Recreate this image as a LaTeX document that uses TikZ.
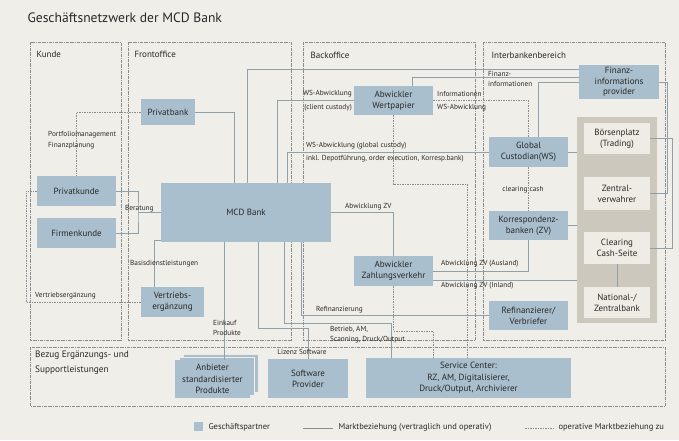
\documentclass[tikz,border=0pt]{standalone}
\usepackage{fontspec}
\setmainfont{PT Sans}
\usetikzlibrary{positioning,calc}
\definecolor{bgbeige}{HTML}{F0EEE8}
\definecolor{partnerblue}{HTML}{A9BFCD}
\definecolor{colgray}{HTML}{CCC8BD}
\definecolor{innerbeige}{HTML}{EFECE5}
\definecolor{linegray}{HTML}{8FA0AB}
\definecolor{dashgray}{HTML}{8C8C8C}
\definecolor{txtgray}{HTML}{282828}

\begin{document}
\begin{tikzpicture}[x=1pt,y=-1pt,
    every node/.style={text=txtgray, font=\fontsize{9}{11}\selectfont},
    partner/.style={fill=partnerblue, inner sep=0pt, align=center},
    inbox/.style={fill=innerbeige, inner sep=0pt, align=center, minimum width=66pt},
    region/.style={draw=dashgray, line width=0.4pt, dash pattern=on 3pt off 1pt on 0.6pt off 1pt},
    conn/.style={draw=linegray, line width=0.5pt},
    opconn/.style={draw=dashgray, line width=0.45pt, dash pattern=on 1.5pt off 1pt},
    lbl/.style={font=\fontsize{7.3}{8.5}\selectfont, inner sep=0pt}]

  \useasboundingbox (0,0) rectangle (679,440);
  \fill[bgbeige] (0,0) rectangle (679,440);

  \node[anchor=base west, font=\fontsize{13.6}{16}\selectfont] (title) at (24,22) {Geschäftsnetzwerk der MCD Bank};

  % Bereiche
  \draw[region] (30,42) rectangle (121,340);
  \draw[region] (128,42) rectangle (291,340);
  \draw[region] (303,42) rectangle (475,340);
  \draw[region] (483,42) rectangle (665,340);
  \draw[region] (30,347) rectangle (665,406);
  \node[anchor=west] (kunde) at (33,54) {Kunde};
  \node[anchor=west] (front) at (131,54) {Frontoffice};
  \node[anchor=west] (back) at (307,55) {Backoffice};
  \node[anchor=west] (interbank) at (488,55) {Interbankenbereich};
  \node[anchor=north west, align=left, font=\fontsize{9.3}{15}\selectfont, inner sep=0pt] (bezug) at (35,351) {Bezug Ergänzungs- und\\Supportleistungen};

  % Geschaeftspartner
  \node[partner, minimum width=54pt, minimum height=26pt] (privatbank) at (168,112) {Privatbank};
  \node[partner, minimum width=79pt, minimum height=30pt] (privatkunde) at (76.5,191) {Privatkunde};
  \node[partner, minimum width=79pt, minimum height=30pt] (firmenkunde) at (76.5,233) {Firmenkunde};
  \node[partner, minimum width=170pt, minimum height=59pt] (mcd) at (246,212.5) {MCD Bank};
  \node[partner, minimum width=63pt, minimum height=30pt] (vertrieb) at (172.5,302) {Vertriebs-\\ergänzung};
  \node[partner, minimum width=79pt, minimum height=29pt] (abwwp) at (393.5,100.5) {Abwickler\\Wertpapier};
  \node[partner, minimum width=79pt, minimum height=30pt] (abwzv) at (393.5,271) {Abwickler\\Zahlungsverkehr};
  \node[partner, minimum width=80pt, minimum height=34pt, font=\fontsize{9}{10.5}\selectfont] (finanz) at (619,82) {Finanz-\\informations\\provider};
  \node[partner, minimum width=79pt, minimum height=30pt] (gc) at (528.5,152) {Global\\Custodian(WS)};
  \node[partner, minimum width=79pt, minimum height=29pt] (korr) at (528.5,225.5) {Korrespondenz-\\banken (ZV)};
  \node[partner, minimum width=79pt, minimum height=29pt] (refi) at (528.5,315.5) {Refinanzierer/\\Verbriefer};

  \node[fill=colgray, minimum width=80pt, minimum height=206pt, inner sep=0pt] (column) at (617,220) {};
  \node[inbox, minimum height=31pt] (boerse) at (617,138.5) {Börsenplatz\\(Trading)};
  \node[inbox, minimum height=33pt] (zentral) at (617,193.5) {Zentral-\\verwahrer};
  \node[inbox, minimum height=32pt] (clearing) at (617,248) {Clearing\\Cash-Seite};
  \node[inbox, minimum height=31pt] (national) at (617,302.5) {National-/\\Zentralbank};

  \node[partner, draw=innerbeige, line width=0.6pt, minimum width=75pt, minimum height=38pt] (anbieter3) at (220.5,373) {};
  \node[partner, draw=innerbeige, line width=0.6pt, minimum width=75pt, minimum height=38pt] (anbieter2) at (216.5,376) {};
  \node[partner, minimum width=75pt, minimum height=38pt, font=\fontsize{9}{11.5}\selectfont] (anbieter) at (212.5,379) {Anbieter\\standardisierter\\Produkte};
  \node[partner, minimum width=80pt, minimum height=39pt] (software) at (308,378.5) {Software\\Provider};
  \node[partner, minimum width=205pt, minimum height=40pt, font=\fontsize{9}{11.5}\selectfont] (service) at (468.5,378) {Service Center:\\RZ, AM, Digitalisierer,\\Druck/Output, Archivierer};

  % Kunde und Frontoffice
  \draw[opconn] (privatbank.west) -| (privatkunde.north);
  \node[lbl, anchor=west] (lblportfolio) at (48,135) {Portfoliomanagement};
  \node[lbl, anchor=west] (lblfinanzpl) at (48,146) {Finanzplanung};

  \coordinate (pbdown) at (234,0);
  \draw[conn] (privatbank.east) -| (pbdown |- mcd.north);

  \coordinate (ber) at (138,212);
  \draw[conn] (privatkunde.east) -| (ber) |- (firmenkunde.east);
  \draw[conn] (ber) -- (mcd.west |- ber);
  \node[lbl, anchor=west] (lblberatung) at (125,209) {Beratung};

  \coordinate (vtleft) at (26,191);
  \draw[opconn] (vertrieb.west) -| (vtleft) -- (privatkunde.west);
  \node[lbl, anchor=west] (lblvertrieb) at (35,296) {Vertriebsergänzung};

  \coordinate (basis) at (154,240);
  \draw[conn] (vertrieb.north -| basis) -- (basis) -- (mcd.west |- basis);
  \node[lbl, anchor=west] (lblbasis) at (130,264) {Basisdienstleistungen};

  % nach unten
  \coordinate (einkauf) at (224,0);
  \draw[conn] (mcd.south -| einkauf) -- (anbieter.north -| einkauf);
  \node[lbl, anchor=west] (lbleinkauf) at (213,323) {Einkauf};
  \node[lbl, anchor=west] (lblprodukte) at (213,333) {Produkte};

  \coordinate (lizenz) at (258,328);
  \draw[conn] (mcd.south -| lizenz) -- (lizenz) -| (software.north);
  \node[lbl] (lbllizenz) at (302,352) {Lizenz Software};

  \coordinate (betrieb) at (284,323);
  \coordinate (betriebsc) at (391,323);
  \draw[conn] (mcd.south -| betrieb) -- (betrieb) -- (betriebsc) -- (service.north -| betriebsc);
  \node[lbl, anchor=west] (lblbetrieb) at (330,329) {Betrieb, AM,};
  \node[lbl, anchor=west] (lblscanning) at (330,340) {Scanning, Druck/Output};

  \coordinate (refin) at (301,0);
  \draw[conn] (mcd.south -| refin) |- (refi.west);
  \node[lbl, anchor=west] (lblrefi) at (316,310) {Refinanzierung};

  % nach oben
  \coordinate (fininfo) at (247,69);
  \draw[conn] (mcd.north -| fininfo) -- (fininfo) -- (finanz.west |- fininfo);
  \node[lbl, anchor=west] (lblfinanz) at (488,74) {Finanz-};
  \node[lbl, anchor=west] (lblinformationen) at (488,84) {informationen};

  \coordinate (wsclient) at (277,0);
  \draw[conn] (mcd.north -| wsclient) |- (abwwp.west);
  \node[lbl, anchor=east] (lblwsclient) at (352,94) {WS-Abwicklung};
  \node[lbl, anchor=east] (lblclient) at (352,108) {(client custody)};

  \coordinate (wsglobal) at (287,0);
  \draw[conn] (mcd.north -| wsglobal) |- (gc.west);
  \node[lbl, anchor=west] (lblwsglobal) at (306,146) {WS-Abwicklung (global custody)};
  \node[lbl, anchor=west] (lbldepot) at (306,159) {inkl. Depotführung, order execution, Korresp.bank)};

  \draw[conn] (mcd.east) -| (abwzv.north);
  \node[lbl, anchor=west] (lblzv) at (345,207) {Abwicklung ZV};

  % Backoffice
  \coordinate (zvsc) at (433,331);
  \draw[opconn] (abwzv.south) -- (abwzv.south |- zvsc) -- (zvsc) -- (service.north -| zvsc);

  \coordinate (wpsc) at (467,184);
  \draw[opconn] (abwwp.south) |- (wpsc) -- (service.north -| wpsc);

  \draw[opconn] (abwwp.east) -| (gc.north);
  \node[lbl, anchor=west] (lblinfo) at (437,94) {Informationen};
  \node[lbl, anchor=west] (lblwsinfo) at (437,108) {WS-Abwicklung};

  \coordinate (wpinfo) at (412,77);
  \draw[conn] (abwwp.north -| wpinfo) -- (wpinfo) -- (finanz.west |- wpinfo);

  \coordinate (gcinfo) at (538,82);
  \draw[conn] (gc.north -| gcinfo) -- (gcinfo) -- (finanz.west |- gcinfo);

  \draw[conn] (abwzv.east) -| (korr.south);
  \node[lbl, anchor=west] (lblausland) at (441,264) {Abwicklung ZV (Ausland)};

  \coordinate (inland) at (433,280);
  \draw[conn] (inland) -- (inland -| column.west);
  \node[lbl, anchor=west] (lblinland) at (441,286) {Abwicklung ZV (Inland)};

  % Interbankenbereich
  \draw[opconn] (gc.south) -- (korr.north);
  \node[lbl] (lblclearing) at (523,190) {clearing cash};
  \draw[conn] (gc.east) -- (gc.east -| column.west);
  \draw[conn] (korr.east) -- (korr.east -| column.west);
  \draw[conn] (clearing.south) -- (national.north);

  \coordinate (finright) at (667,0);
  \draw[conn] (finanz.east) -- (finanz.east -| finright) -- (finright |- zentral.east) -- (zentral.east);
  \coordinate (boright) at (672,0);
  \draw[conn] (boerse.east) -- (boerse.east -| boright) -- (boright |- clearing.east) -- (clearing.east);

  % Legende
  \node[fill=partnerblue, minimum size=9pt, inner sep=0pt] (legbox) at (198.5,426.5) {};
  \node[anchor=west, font=\fontsize{8.5}{10}\selectfont] (legpartner) at (205,427) {Geschäftspartner};
  \coordinate (legsa) at (303,428);
  \coordinate (legsb) at (333,428);
  \draw[conn, draw=dashgray] (legsa) -- (legsb);
  \node[anchor=west, font=\fontsize{8.5}{10}\selectfont] (legmarkt) at (335,427) {Marktbeziehung (vertraglich und operativ)};
  \coordinate (legda) at (525,428);
  \coordinate (legdb) at (553,428);
  \draw[opconn] (legda) -- (legdb);
  \node[anchor=west, font=\fontsize{8.5}{10}\selectfont] (legop) at (555,427) {operative Marktbeziehung zu};
\end{tikzpicture}
\end{document}
